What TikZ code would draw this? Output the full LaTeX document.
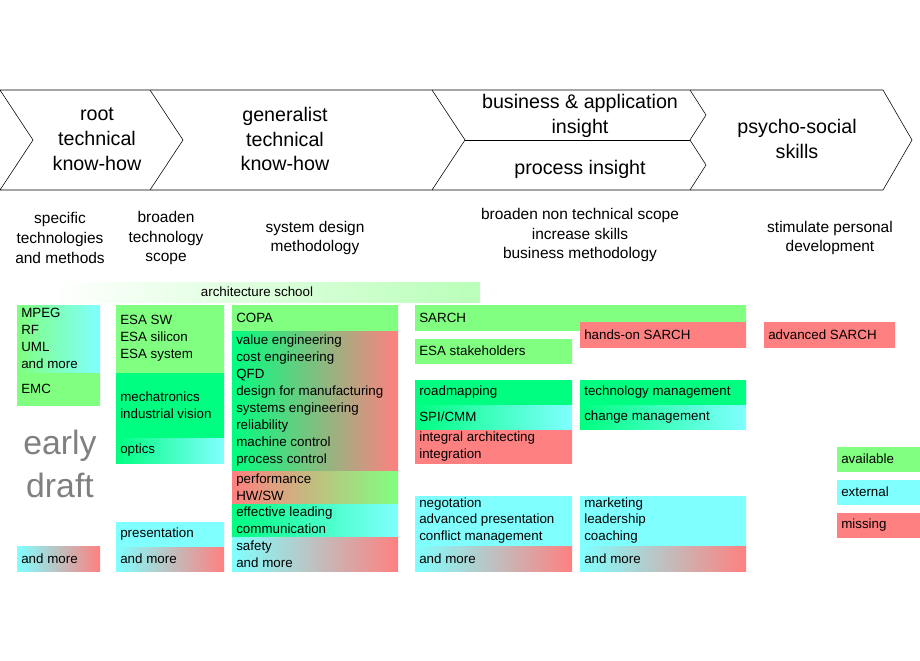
\documentclass[tikz,border=0pt]{standalone}
\usepackage{fontspec}
\setmainfont{Liberation Sans}
\usetikzlibrary{positioning}

\definecolor{avail}{HTML}{80FF80}
\definecolor{spring}{HTML}{00FF80}
\definecolor{extern}{HTML}{80FFFF}
\definecolor{miss}{HTML}{FF8080}

\tikzset{
  phase/.style={align=center, font=\fontsize{14}{17.7}\selectfont},
  aim/.style={align=center, font=\fontsize{11}{14}\selectfont},
  skilltext/.style={anchor=west, align=left, inner sep=0pt, font=\fontsize{9.5}{12}\selectfont}
}

% \skill{name}{x1}{y1}{x2}{y2}{left colour}{right colour}{text}
\newcommand{\skill}[8]{%
  \shade[left color=#6, right color=#7] (#2,#3) rectangle (#4,#5);
  \node[skilltext] (#1) at (#2+4, {(#3+#5)/2}) {#8};
}

\begin{document}
\begin{tikzpicture}[x=0.025cm, y=-0.025cm]
   \useasboundingbox (0,0) rectangle (920,660);

   % phases
   \draw (0,90) -- (883,90) -- (912,140) -- (883,190) -- (0,190) -- (33,140) -- cycle;
   \draw (150,90) -- (183,140) -- (150,190);
   \draw (432,90) -- (465,140) -- (432,190);
   \draw (465,140) -- (690,140);
   \draw (690,90) -- (706,115) -- (690,140) -- (706,165) -- (690,190);

   \node[phase] (root) at (97,139) {root\\technical\\know-how};
   \node[phase] (general) at (285,139) {generalist\\technical\\know-how};
   \node[phase] (business) at (580,116) {business \& application\\insight};
   \node[phase] (process) at (580,169) {process insight};
   \node[phase] (psycho) at (797,139) {psycho-social\\skills};

   % aims
   \node[aim] (specific) at (60,238) {specific\\technologies\\and methods};
   \node[aim] (broaden) at (166,238) {broaden\\technology\\scope};
   \node[aim] (sysdesign) at (315,238) {system design\\methodology};
   \node[aim] (nontech) at (580,235) {broaden non technical scope\\increase skills\\business methodology};
   \node[aim] (personal) at (830,238) {stimulate personal\\development};

   % architecture school
   \shade[left color=white, right color=avail!55] (50,282) rectangle (480,302);
   \node[skilltext, anchor=center] (school) at (257,292) {architecture school};

   % specific technologies
   \skill{mpeg}{17}{305}{100}{372}{avail}{extern}{MPEG\\RF\\UML\\and more}
   \skill{emc}{17}{373}{100}{405}{avail}{avail}{EMC}
   \skill{more1}{17}{546}{100}{571}{extern}{miss}{and more}
   \node[font=\fontsize{24}{30}\selectfont, text=gray, align=center] (draft) at (60,464) {early\\draft};

   % broaden technology
   \skill{esa}{116}{305}{224}{372}{avail}{avail}{ESA SW\\ESA silicon\\ESA system}
   \skill{mecha}{116}{373}{224}{437}{spring}{spring}{mechatronics\\industrial vision}
   \skill{optics}{116}{438}{224}{463}{spring}{extern}{optics}
   \skill{present}{116}{522}{224}{546}{extern}{extern}{presentation}
   \skill{more2}{116}{547}{224}{571}{extern}{miss}{and more}

   % system design
   \skill{copa}{232}{305}{398}{330}{avail}{avail}{COPA}
   \skill{value}{232}{331}{398}{470}{spring}{miss}{value engineering\\cost engineering\\QFD\\design for manufacturing\\systems engineering\\reliability\\machine control\\process control}
   \skill{perf}{232}{471}{398}{503}{miss}{avail}{performance\\HW/SW}
   \skill{lead}{232}{504}{398}{536}{spring}{extern}{effective leading\\communication}
   \skill{safety}{232}{537}{398}{571}{extern}{miss}{safety\\and more}

   % non technical
   \skill{sarch}{415}{305}{746}{330}{avail}{avail}{SARCH}
   \skill{stake}{415}{339}{572}{363}{avail}{avail}{ESA stakeholders}
   \skill{road}{415}{380}{572}{404}{spring}{spring}{roadmapping}
   \skill{spi}{415}{405}{572}{429}{spring}{extern}{SPI/CMM}
   \skill{integral}{415}{430}{572}{463}{miss}{miss}{integral architecting\\integration}
   \skill{nego}{415}{496}{572}{545}{extern}{extern}{negotation\\advanced presentation\\conflict management}
   \skill{more4}{415}{546}{572}{571}{extern}{miss}{and more}

   \skill{handson}{580}{322}{746}{347}{miss}{miss}{hands-on SARCH}
   \skill{techman}{580}{380}{746}{404}{spring}{spring}{technology management}
   \skill{change}{580}{405}{746}{429}{spring}{extern}{change management}
   \skill{market}{580}{496}{746}{545}{extern}{extern}{marketing\\leadership\\coaching}
   \skill{more5}{580}{546}{746}{571}{extern}{miss}{and more}

   % personal
   \skill{advanced}{764}{322}{895}{347}{miss}{miss}{advanced SARCH}

   % legend
   \skill{available}{837}{447}{920}{471}{avail}{avail}{available}
   \skill{external}{837}{480}{920}{504}{extern}{extern}{external}
   \skill{missing}{837}{513}{920}{537}{miss}{miss}{missing}
\end{tikzpicture}
\end{document}
